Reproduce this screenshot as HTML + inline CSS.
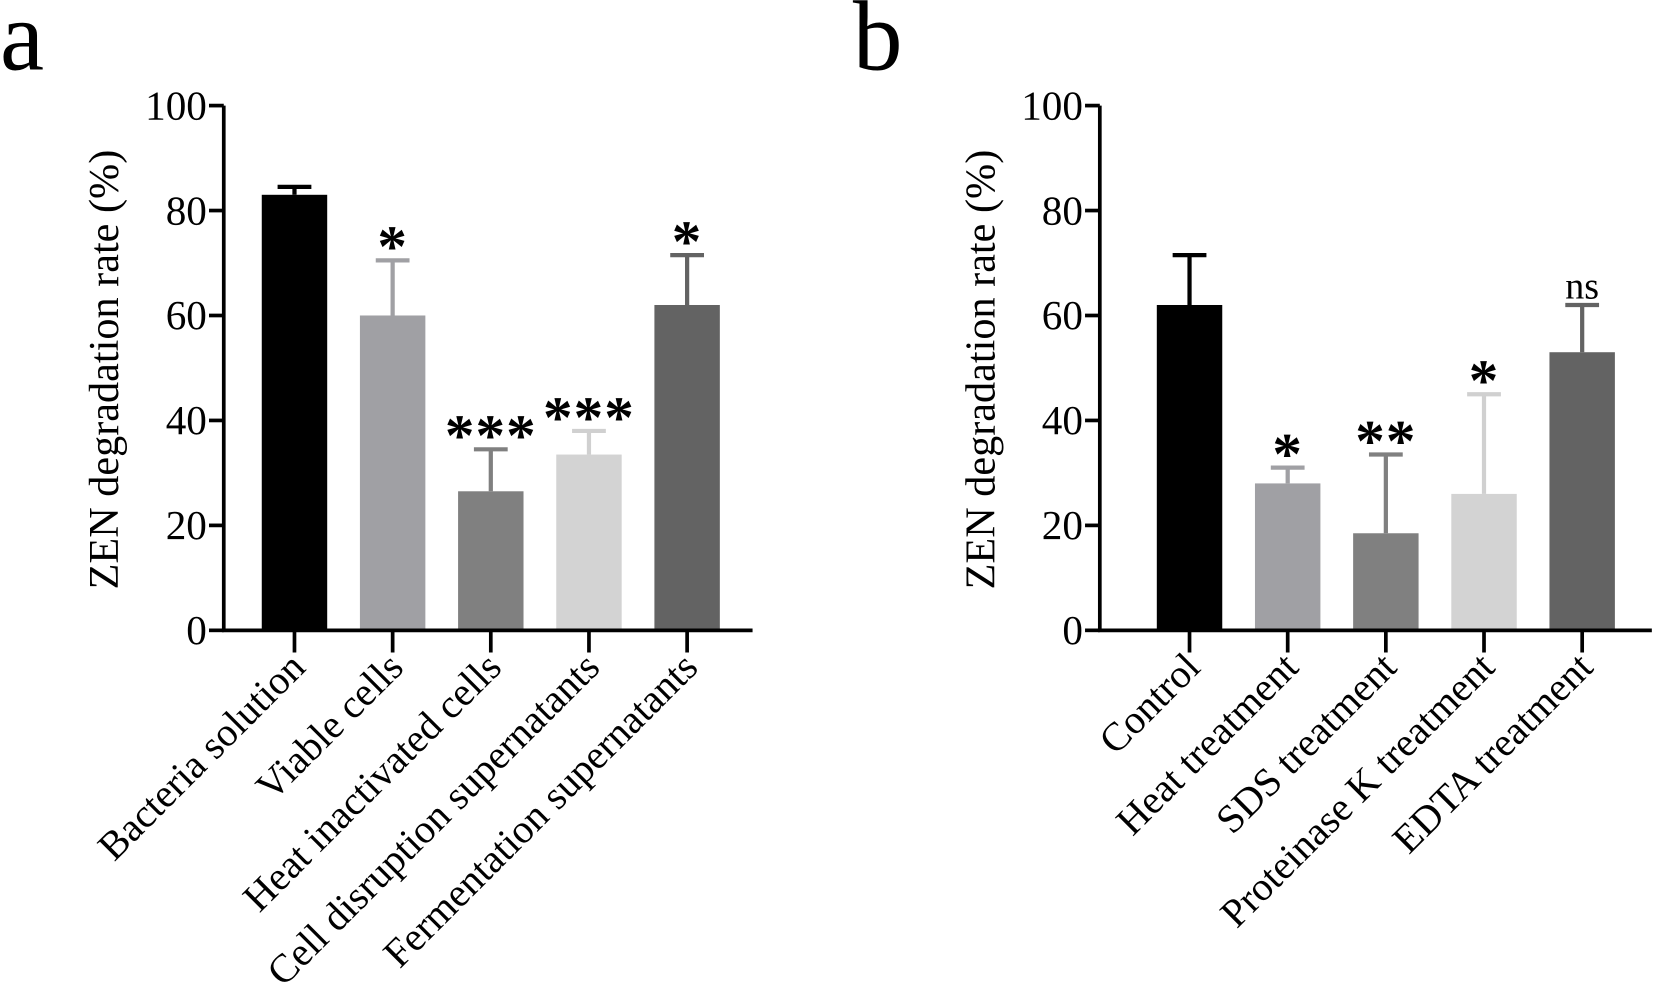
<!DOCTYPE html>
<html><head><meta charset="utf-8"><style>
html,body{margin:0;padding:0;background:#fff;}
svg{display:block;}
text{font-family:"Liberation Serif",serif;fill:#000;}
</style></head><body>
<svg id="fig" width="1655" height="1002" viewBox="0 0 1568 949" preserveAspectRatio="none" xmlns="http://www.w3.org/2000/svg"></svg>
<script>
const catsA = ["Bacteria solution","Viable cells","Heat inactivated cells","Cell disruption supernatants","Fermentation supernatants"];
const valsA = [83, 60, 26.5, 33.5, 62];
const errA = [1.5, 10.5, 8, 4.5, 9.5];
const sigA = ["", "*", "***", "***", "*"];
const catsB = ["Control","Heat treatment","SDS treatment","Proteinase K treatment","EDTA treatment"];
const valsB = [62, 28, 18.5, 26, 53];
const errB = [9.5, 3, 15, 19, 9];
const sigB = ["", "*", "**", "*", "ns"];
const yTicks = [0, 20, 40, 60, 80, 100];
const colors = ["#000000","#a0a0a4","#808080","#d3d3d3","#636363"];

const svg = document.getElementById('fig');
const NS = "http://www.w3.org/2000/svg";
function mk(tag, attrs, parent){ const e=document.createElementNS(NS,tag); for(const k in attrs) e.setAttribute(k,attrs[k]); (parent||svg).appendChild(e); return e; }

function panel(id, letter, letterX, axisX, axisEnd, firstCenter, cats, vals, errs, sigs){
  const g = mk('g',{});
  
  
  const y0 = 597, y100 = 100;
  const yS = v => y0 - (v/100)*(y0-y100);
  const step = 93, bw = 62;
  const xC = i => firstCenter + i*step;
  const lt = mk('text',{x:letterX,y:66,'font-size':94},g); lt.textContent = letter;
  
  
  vals.forEach((v,i)=>{
    const r = mk('rect',{x:xC(i)-bw/2,y:yS(v),width:bw,height:y0-yS(v),fill:colors[i]},g);
    
    
    const ec = i===0 ? '#000' : colors[i]==='#d3d3d3' ? '#d0d0d0' : colors[i];
    const top = yS(v+errs[i]);
    const eb = mk('path',{d:`M${xC(i)} ${yS(v)} V${top} M${xC(i)-16} ${top} H${xC(i)+16}`,stroke:ec,'stroke-width':4,fill:'none'},g);
    
    
    if(sigs[i]){
      const isNs = sigs[i]==='ns';
      const t = mk('text',{x:xC(i),y:isNs? top-6 : top+6,'text-anchor':'middle','font-size':isNs?36:56,'font-family':isNs?'"Liberation Serif",serif':'"Liberation Sans",sans-serif','font-weight':isNs?'normal':'bold','letter-spacing':isNs?0:1},g);
      t.textContent = sigs[i];
      
      
    }
    const tk = mk('line',{x1:xC(i),y1:y0,x2:xC(i),y2:618,stroke:'#000','stroke-width':3.5},g);
    
    
    const lx = xC(i)+12, ly = 634;
    const lb = mk('text',{x:lx,y:ly,'text-anchor':'end','font-size':38,transform:`rotate(-45 ${lx} ${ly})`},g);
    lb.textContent = cats[i];
    
    
  });
  const ax = mk('path',{d:`M${axisX} ${y100} V${y0} H${axisEnd}`,stroke:'#000','stroke-width':3.5,fill:'none'},g);
  
  
  yTicks.forEach(v=>{
    const tl = mk('line',{x1:axisX-14,y1:yS(v),x2:axisX,y2:yS(v),stroke:'#000','stroke-width':3.5},g);
    
    
    const tt = mk('text',{x:axisX-16,y:yS(v)+13,'text-anchor':'end','font-size':39},g);
    tt.textContent = v;
    
    
  });
  const tx = axisX-100, ty = 350;
  const yt = mk('text',{x:tx,y:ty,'text-anchor':'middle','font-size':40,transform:`rotate(-90 ${tx} ${ty})`},g);
  yt.textContent = 'ZEN degradation rate (%)';
  
  
}
panel('a','a',0,212,713,279,catsA,valsA,errA,sigA);
panel('b','b',808,1042,1565,1127,catsB,valsB,errB,sigB);
</script>
</body></html>
